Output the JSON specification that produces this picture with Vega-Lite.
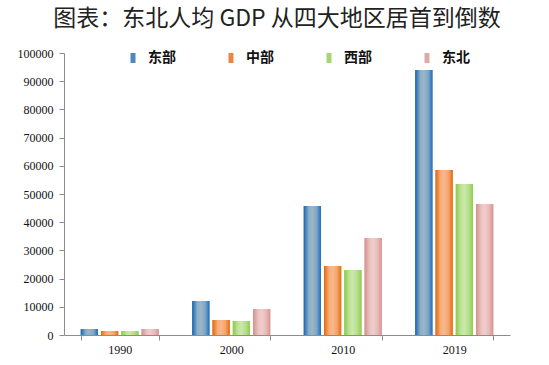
{
  "$schema": "https://vega.github.io/schema/vega-lite/v6.json",
  "width": 446,
  "height": 282,
  "autosize": {"type": "none"},
  "padding": {"left": 64, "top": 53, "right": 39, "bottom": 30},
  "background": "white",
  "title": {
    "text": "图表：东北人均 GDP 从四大地区居首到倒数",
    "font": "Noto Sans CJK SC",
    "fontSize": 23,
    "fontWeight": "normal",
    "color": "#222222",
    "frame": "group",
    "anchor": "middle",
    "dx": -10,
    "offset": 16
  },
  "config": {
    "view": {"stroke": null},
    "axis": {"labelFont": "Liberation Serif", "labelFontSize": 12, "labelColor": "#111111", "domainColor": "#8c8c8c", "tickColor": "#8c8c8c", "tickSize": 5, "grid": false, "title": null}
  },
  "data": {
    "values": [
      {"year": "1990", "region": "东部", "value": 2100},
      {"year": "1990", "region": "中部", "value": 1400},
      {"year": "1990", "region": "西部", "value": 1400},
      {"year": "1990", "region": "东北", "value": 2100},
      {"year": "2000", "region": "东部", "value": 12050},
      {"year": "2000", "region": "中部", "value": 5300},
      {"year": "2000", "region": "西部", "value": 4950},
      {"year": "2000", "region": "东北", "value": 9200},
      {"year": "2010", "region": "东部", "value": 45750},
      {"year": "2010", "region": "中部", "value": 24450},
      {"year": "2010", "region": "西部", "value": 23050},
      {"year": "2010", "region": "东北", "value": 34400},
      {"year": "2019", "region": "东部", "value": 94000},
      {"year": "2019", "region": "中部", "value": 58500},
      {"year": "2019", "region": "西部", "value": 53550},
      {"year": "2019", "region": "东北", "value": 46450}
    ]
  },
  "encoding": {
    "x": {
      "field": "year", "type": "nominal",
      "scale": {"paddingInner": 0.3, "paddingOuter": 0.15},
      "axis": {"labelAngle": 0, "tickBand": "extent", "labelPadding": 4, "labelFont": "Liberation Serif", "labelFontSize": 12}
    },
    "xOffset": {
      "field": "region", "type": "nominal",
      "scale": {"domain": ["东部", "中部", "西部", "东北"], "paddingInner": 0.15}
    },
    "y": {
      "field": "value", "type": "quantitative",
      "scale": {"domain": [0, 100000], "nice": false},
      "axis": {"values": [0, 10000, 20000, 30000, 40000, 50000, 60000, 70000, 80000, 90000, 100000], "format": "d", "labelPadding": 6, "labelFont": "Liberation Serif", "labelFontSize": 12, "labelColor": "#111111"}
    }
  },
  "layer": [
    {
      "mark": {"type": "bar"},
      "encoding": {
        "color": {
          "field": "region", "type": "nominal",
          "scale": {"domain": ["东部", "中部", "西部", "东北"], "range": ["#4F86C0", "#EC8540", "#A6D673", "#E0A9A8"]},
          "legend": {
            "title": null,
            "orient": "none",
            "legendX": 62,
            "legendY": -2,
            "direction": "horizontal",
            "symbolType": "M-0.5,-1H0.5V1H-0.5Z",
            "symbolSize": 100,
            "symbolStrokeWidth": 0,
            "labelFont": "Noto Sans CJK SC",
            "labelFontSize": 14,
            "labelFontWeight": "bold",
            "labelColor": "#111111",
            "labelOffset": 8,
            "columnPadding": 48
          }
        }
      }
    },
    {
      "transform": [{"filter": "datum.region === '东部'"}],
      "mark": {"type": "bar", "color": {"gradient": "linear", "x1": 0, "x2": 1, "y1": 0, "y2": 0, "stops": [{"offset": 0, "color": "#1565B5"}, {"offset": 0.3, "color": "#8DAEC6"}, {"offset": 0.5, "color": "#9BB6C6"}, {"offset": 0.75, "color": "#7FA6C6"}, {"offset": 1, "color": "#1A6EC0"}]}}
    },
    {
      "transform": [{"filter": "datum.region === '中部'"}],
      "mark": {"type": "bar", "color": {"gradient": "linear", "x1": 0, "x2": 1, "y1": 0, "y2": 0, "stops": [{"offset": 0, "color": "#E2680A"}, {"offset": 0.3, "color": "#F7AE7C"}, {"offset": 0.5, "color": "#F9B88B"}, {"offset": 0.75, "color": "#F5A46E"}, {"offset": 1, "color": "#E46C0A"}]}}
    },
    {
      "transform": [{"filter": "datum.region === '西部'"}],
      "mark": {"type": "bar", "color": {"gradient": "linear", "x1": 0, "x2": 1, "y1": 0, "y2": 0, "stops": [{"offset": 0, "color": "#8BCB48"}, {"offset": 0.3, "color": "#C0E39B"}, {"offset": 0.5, "color": "#CBE8AB"}, {"offset": 0.75, "color": "#B6DE8C"}, {"offset": 1, "color": "#8FCD4E"}]}}
    },
    {
      "transform": [{"filter": "datum.region === '东北'"}],
      "mark": {"type": "bar", "color": {"gradient": "linear", "x1": 0, "x2": 1, "y1": 0, "y2": 0, "stops": [{"offset": 0, "color": "#D48F8D"}, {"offset": 0.3, "color": "#EBC3C2"}, {"offset": 0.5, "color": "#F0CDCC"}, {"offset": 0.75, "color": "#E8BBBA"}, {"offset": 1, "color": "#D69492"}]}}
    }
  ]
}
